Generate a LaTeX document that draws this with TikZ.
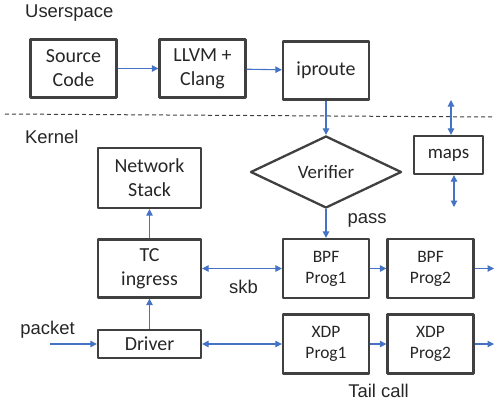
\documentclass[tikz,border=0pt]{standalone}
\usepackage{fontspec}
\setmainfont{Carlito}
\newfontfamily\labfont{Liberation Sans}
\usetikzlibrary{shapes.geometric,arrows.meta}
\definecolor{boxgray}{HTML}{404040}
\definecolor{arrblue}{HTML}{4472C4}
\definecolor{txtgray}{HTML}{262626}
\begin{document}
\begin{tikzpicture}[x=1bp, y=-1bp, line join=round, >={Triangle[length=6.5bp,width=6.5bp]},
    blk/.style={draw=boxgray, line width=2.3bp, text=txtgray, inner sep=0pt, align=center, font=\fontsize{20}{24}\selectfont},
    prog/.style={blk, minimum width=86bp, minimum height=59bp, font=\fontsize{17.5}{21}\selectfont},
    lab/.style={text=txtgray, inner sep=0pt, font=\labfont\fontsize{18.5}{22}\selectfont},
    flow/.style={draw=arrblue, line width=1.1bp, ->},
    both/.style={flow, <->}]
    \useasboundingbox (0,0) rectangle (494,402);
    \def\ytc{268.5}
    \def\ydrv{344}
    % userspace
    \node[lab, anchor=west] (user) at (25,13.5) {Userspace};
    \node[blk, minimum width=86bp, minimum height=58bp] (src) at (73.5,68.5) {Source\\Code};
    \node[blk, minimum width=86bp, minimum height=58bp] (llvm) at (202.5,68.5) {LLVM +\\Clang};
    \node[blk, minimum width=86bp, minimum height=58bp] (iproute) at (326,70.5) {iproute};
    \draw[boxgray, line width=1bp, dash pattern=on 4bp off 3bp] (5,114) -- (494,117);
    % kernel
    \node[lab, anchor=west] (kern) at (25,136.5) {Kernel};
    \node[blk, shape=diamond, minimum width=151bp, minimum height=72bp, font=\fontsize{19}{23}\selectfont] (verif) at (326,172) {Verifier};
    \node[blk, minimum width=69bp, minimum height=38bp, font=\fontsize{19}{23}\selectfont] (maps) at (448.5,155) {maps};
    \node[blk, minimum width=103bp, minimum height=60bp] (netstack) at (149.5,178) {Network\\Stack};
    \node[blk, minimum width=103bp, minimum height=58bp] (tc) at (149.5,\ytc) {TC\\ingress};
    \node[blk, minimum width=103bp, minimum height=28bp] (driver) at (149.5,\ydrv) {Driver};
    \foreach \k/\x in {1/326, 2/430.5}{
        \node[prog] (bpf\k) at (\x,\ytc) {BPF\\Prog\k};
        \node[prog] (xdp\k) at (\x,\ydrv) {XDP\\Prog\k};
    }
    \path
    node[lab] (pass) at (367,220) {pass}
    node[lab] (skb) at (243.5,286.5) {skb}
    node[lab] (packet) at (47.5,329.5) {packet}
    node[lab] (tail) at (378.5,391) {Tail call};
    \coordinate (mapstop) at (451,100);
    \coordinate (mapsbot) at (454,207);
    \coordinate (pktin) at (50,\ydrv);
    \coordinate (bpfout) at (494,\ytc);
    \coordinate (xdpout) at (494,\ydrv);
    % connectors
    \draw[flow] (src) -- (llvm);
    \draw[flow] (llvm) -- (iproute);
    \draw[flow] (iproute) -- (verif);
    \draw[flow] (verif) -- (bpf1);
    \draw[flow] (tc) -- (netstack);
    \draw[flow] (driver) -- (tc);
    \draw[flow] (pktin) -- (driver);
    \draw[both] (tc) -- (bpf1);
    \draw[both] (driver) -- (xdp1);
    \draw[flow] (bpf1) -- (bpf2);
    \draw[flow] (xdp1) -- (xdp2);
    \draw[flow] (bpf2) -- (bpfout);
    \draw[flow] (xdp2) -- (xdpout);
    \draw[both] (mapstop) -- (mapstop |- maps.north);
    \draw[both] (maps.south -| mapsbot) -- (mapsbot);
\end{tikzpicture}
\end{document}
